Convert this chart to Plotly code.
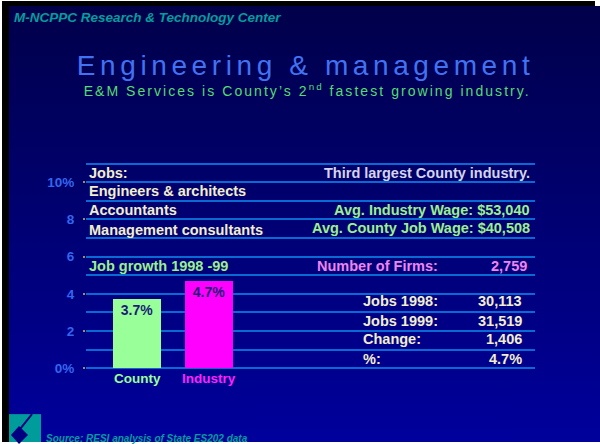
import base64
import json
import plotly.graph_objects as go

W, H = 600, 444

# ---------------- data ----------------
categories = ["County", "Industry"]
growth_pct = [3.7, 4.7]
y_tick_vals = [0, 2, 4, 6, 8, 10]
y_tick_text = ["0%", "2", "4", "6", "8", "10%"]

header_text = "M-NCPPC Research & Technology Center"
title_text = "Engineering & management"
subtitle_text = "E&M Services is County’s 2<sup>nd</sup> fastest growing industry."
source_text = "Source: RESI analysis of State ES202 data"

left_labels = ["Jobs:", "Engineers & architects", "Accountants", "Management consultants"]
right_labels = ["Third largest County industry.", "Avg. Industry Wage: $53,040", "Avg. County Job Wage: $40,508"]
growth_label = "Job growth 1998 -99"
firms_label = "Number of Firms:"
firms_value = "2,759"
stat_labels = ["Jobs 1998:", "Jobs 1999:", "Change:", "%:"]
stat_values = ["30,113", "31,519", "1,406", "4.7%"]

# ---------------- positions (rows in axis units) ----------------
left_rows = [10.5, 9.55, 8.5, 7.45]
right_rows = [10.5, 8.5, 7.55]
growth_row = 5.5
stat_rows = [3.6, 2.55, 1.55, 0.5]

# ---------------- style ----------------
FONT = "Liberation Sans, Arial, Helvetica, sans-serif"
CREAM = "#f2eecc"
GREEN = "#9cf08c"
LAV = "#d4d4ee"
PINK = "#f084f0"
TEAL = "#009e9e"
GRID = "#0a6ad4"
TICK = "#3366ee"


def px(x):
    return x / W


def py(y):
    return 1 - y / H


# axis geometry in pixels
X_L, X_R = 86, 535
UNIT_X = 72.0
CX0 = 137
Y0, UNIT_Y = 370.0, 18.7
YR = [-0.3, 11.3]

x_range = [-(CX0 - X_L) / UNIT_X, (X_R - CX0) / UNIT_X]
y_domain = [py(Y0 - YR[0] * UNIT_Y), py(Y0 - YR[1] * UNIT_Y)]

fig = go.Figure()
fig.add_trace(go.Bar(
    x=categories, y=growth_pct, width=48 / UNIT_X,
    marker=dict(color=["#99ff99", "#ff00ff"], line=dict(width=0)),
    texttemplate="%{y}%", textposition="inside", insidetextanchor="end",
    textangle=0, constraintext="none",
    textfont=dict(family=FONT, size=14, color="#1c1c78", weight="bold"),
    hoverinfo="skip",
))


def ann(text, x, y, color, size, xanchor="left", yref="paper", xref="paper",
        bold=True, italic=False):
    return dict(text=text, x=x, y=y, xref=xref, yref=yref, xanchor=xanchor,
                yanchor="middle", showarrow=False, align=xanchor if xanchor != "center" else "center",
                font=dict(family=FONT, size=size, color=color,
                          weight="bold" if bold else "normal",
                          style="italic" if italic else "normal"))


annotations = [
    ann(header_text, px(12), py(17.3), TEAL, 13.5, bold=True, italic=True),
    ann(title_text, px(305), py(65.3), "#4272f2", 28, xanchor="center", bold=False),
    ann(subtitle_text, px(307), py(90.5), "#55dc70", 14, xanchor="center", bold=False),
    ann(source_text, px(44), py(440.7), TEAL, 10, bold=True, italic=True),
]
for t, r in zip(left_labels, left_rows):
    annotations.append(ann(t, px(87), r, CREAM, 14.5, yref="y"))
annotations.append(ann(growth_label, px(87), growth_row, GREEN, 14.5, yref="y"))
right_colors = [LAV, GREEN, GREEN]
for t, r, c in zip(right_labels, right_rows, right_colors):
    annotations.append(ann(t, px(532), r, c, 14.5, xanchor="right", yref="y"))
annotations.append(ann(firms_label, px(315), growth_row, PINK, 14.5, yref="y"))
annotations.append(ann(firms_value, px(529), growth_row, PINK, 14.5, xanchor="right", yref="y"))
for t, v, r in zip(stat_labels, stat_values, stat_rows):
    annotations.append(ann(t, px(361), r, CREAM, 14.5, yref="y"))
    annotations.append(ann(v, px(524), r, CREAM, 14.5, xanchor="right", yref="y"))
cat_colors = ["#99ff99", "#ff22ff"]
for c, col in zip(categories, cat_colors):
    annotations.append(ann(c, c, py(380), col, 13.5, xanchor="center", xref="x"))

# background gradient as an inline svg image
svg = ("<svg xmlns='http://www.w3.org/2000/svg' width='10' height='100' preserveAspectRatio='none'>"
       "<defs><linearGradient id='g' x1='0' y1='0' x2='0' y2='1'>"
       "<stop offset='0' stop-color='#00004a'/><stop offset='1' stop-color='#00009c'/>"
       "</linearGradient></defs><rect width='10' height='100' fill='url(#g)'/></svg>")
src = "data:image/svg+xml;base64," + base64.b64encode(svg.encode()).decode()

images = [dict(source=src, xref="paper", yref="paper", x=px(9), y=py(6),
               sizex=px(600 - 9), sizey=(444 - 6) / H, xanchor="left", yanchor="top",
               sizing="stretch", layer="below")]

shapes = [
    dict(type="rect", xref="paper", yref="paper", x0=px(2), x1=px(595), y0=py(1), y1=py(6),
         fillcolor="black", line=dict(width=0), layer="below"),
    dict(type="rect", xref="paper", yref="paper", x0=px(2), x1=px(9), y0=py(1), y1=py(444),
         fillcolor="black", line=dict(width=0), layer="below"),
    # logo
    dict(type="rect", xref="paper", yref="paper", x0=px(9), x1=px(41), y0=py(416), y1=py(444),
         fillcolor="#009c9c", line=dict(width=0), layer="above"),
    dict(type="path", xref="paper", yref="paper",
         path=f"M {px(11)},{py(437)} L {px(19)},{py(428)} L {px(28)},{py(437)} L {px(19)},{py(446)} Z",
         fillcolor="#000080", line=dict(width=0), layer="above"),
    dict(type="line", xref="paper", yref="paper", x0=px(32), y0=py(416), x1=px(20), y1=py(431),
         line=dict(color="#000080", width=2), layer="above"),
]

fig.update_layout(
    width=W, height=H, autosize=False,
    margin=dict(l=0, r=0, t=0, b=0, pad=0),
    paper_bgcolor="white", plot_bgcolor="rgba(0,0,0,0)",
    showlegend=False, bargap=0,
    xaxis=dict(domain=[px(X_L), px(X_R)], range=x_range, type="category",
               showgrid=False, zeroline=False, showline=False, showticklabels=False,
               fixedrange=True),
    yaxis=dict(domain=y_domain, range=YR, tickvals=y_tick_vals, ticktext=y_tick_text,
               showgrid=True, gridcolor=GRID, gridwidth=2, zeroline=False, showline=False,
               ticks="outside", ticklen=2, tickwidth=2, tickcolor="#9a9060",
               ticklabelstandoff=6,
               tickfont=dict(family=FONT, size=13.5, color=TICK, weight="bold"),
               minor=dict(dtick=1, tick0=0, showgrid=True, gridcolor=GRID, gridwidth=2, ticks=""),
               fixedrange=True),
    annotations=annotations, shapes=shapes, images=images,
)

spacing = [[title_text, 4.6], ["E&M Services", 2.05]]
post = ("document.documentElement.style.margin='0';document.body.style.margin='0';"
        "document.body.style.overflow='hidden';"
        "var sp=" + json.dumps(spacing) + ";"
        "var gd=document.getElementById('{plot_id}');"
        "gd.querySelectorAll('text.annotation-text').forEach(function(t){"
        "var u=t.getAttribute('data-unformatted')||'';"
        "sp.forEach(function(p){if(u.indexOf(p[0])===0){t.style.letterSpacing=p[1]+'px';}});});")

fig.write_html("out.html", post_script=post, config={"displayModeBar": False})
